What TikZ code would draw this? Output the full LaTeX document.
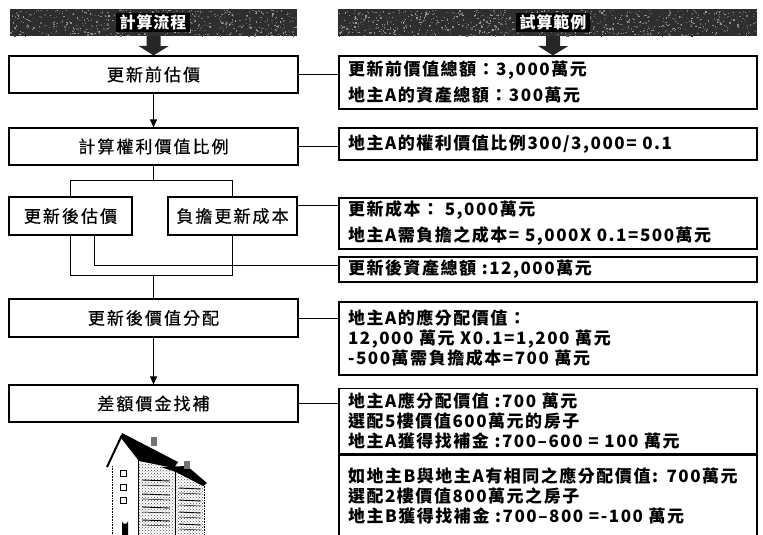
\documentclass[tikz,border=0pt]{standalone}
\usepackage{fontspec}
\setmainfont{Noto Sans CJK TC}
\usetikzlibrary{arrows.meta,patterns}

% text styles for the two columns
\newcommand\stepfont{\fontsize{17}{19}\selectfont\addfontfeature{LetterSpace=12,FakeBold=0.5}}
\newcommand\notefont{\bfseries\fontsize{17}{26}\selectfont\addfontfeature{LetterSpace=9}}
\newcommand\notefonttight{\bfseries\fontsize{17}{20}\selectfont\addfontfeature{LetterSpace=9}}
\newcommand\headfont{\bfseries\fontsize{16}{16}\selectfont\addfontfeature{LetterSpace=6}}

\tikzset{
  stepbox/.style={draw, line width=1.2pt, inner sep=0pt, minimum width=289, minimum height=37, font=\stepfont},
  notebox/.style={draw, line width=1.2pt, inner xsep=9pt, inner ysep=0pt, minimum width=418,
                  text width=400pt, align=left, font=\notefont},
  headbar/.style={fill=black!82, inner sep=0pt, minimum height=27},
  headlabel/.style={fill=black, text=white, font=\headfont, inner xsep=4pt, inner ysep=2pt},
  link/.style={line width=0.9pt},
  flow/.style={line width=0.9pt, -{Triangle[length=8pt,width=7pt]}},
  blockarrow/.style={fill=black!85},
}

\begin{document}
\begin{tikzpicture}[x=1pt,y=-1pt]
\useasboundingbox (0,0) rectangle (763,535);

% ---------- column headers with a grainy dark texture ----------
\node[headbar, minimum width=287] (hl) at (153.5,22.5) {};
\node[headbar, minimum width=419] (hr) at (547.5,22.5) {};
\pgfmathsetseed{11}
\foreach \i in {1,...,750}{
  \pgfmathsetmacro\rx{10+286*rnd}
  \pgfmathsetmacro\ry{9.5+26*rnd}
  \pgfmathsetmacro\rg{35+50*rnd}
  \fill[black!\rg] (\rx,\ry) rectangle ++(1.3,1.3);
}
\foreach \i in {1,...,1100}{
  \pgfmathsetmacro\rx{338+418*rnd}
  \pgfmathsetmacro\ry{9.5+26*rnd}
  \pgfmathsetmacro\rg{35+50*rnd}
  \fill[black!\rg] (\rx,\ry) rectangle ++(1.3,1.3);
}
\node[headlabel] (hlt) at (153,22.5) {計算流程};
\node[headlabel] (hrt) at (553,22.5) {試算範例};

% ---------- left column: calculation steps ----------
\node[stepbox] (l1) at (153.5,74.5) {更新前估價};
\node[stepbox] (l2) at (153.5,146.5) {計算權利價值比例};
\node[stepbox, minimum width=123, minimum height=38] (l3a) at (70.5,216) {更新後估價};
\node[stepbox, minimum width=129, minimum height=38] (l3b) at (232.5,216) {負擔更新成本};
\node[stepbox, minimum height=38] (l4) at (153.5,318) {更新後價值分配};
\node[stepbox] (l5) at (153.5,403.5) {差額價金找補};

% ---------- right column: worked example ----------
\node[notebox, minimum height=53] (r1) at (548,82.5) {更新前價值總額：3,000萬元\\地主A的資產總額：300萬元};
\node[notebox, minimum height=32] (r2) at (548,144) {地主A的權利價值比例300/3,000= 0.1};
\node[notebox, minimum height=51] (r3) at (548,223.5) {更新成本： 5,000萬元\\地主A需負擔之成本= 5,000X 0.1=500萬元};
\node[notebox, minimum height=25] (r3b) at (548,269.5) {更新後資產總額 :12,000萬元};
\node[notebox, minimum height=73, font=\notefonttight] (r4) at (548,338.5) {地主A的應分配價值：\\12,000 萬元 X0.1=1,200 萬元\\-500萬需負擔成本=700 萬元};
\node[notebox, minimum height=65, font=\notefonttight] (r5) at (548,421) {地主A應分配價值 :700 萬元\\選配5樓價值600萬元的房子\\地主A獲得找補金 :700–600 =  100 萬元};
\node[notebox, minimum height=85, font=\notefonttight, line width=1.6pt] (r6) at (548,496) {如地主B與地主A有相同之應分配價值: 700萬元\\選配2樓價值800萬元之房子\\地主B獲得找補金 :700–800 =-100 萬元};
\draw[line width=3pt] (r5.south west) -- (r5.south east);

% ---------- block arrows under the headers ----------
\fill[blockarrow] (hl.south) ++(-7,0) -- ++(14,0) -- ++(0,10) -- ++(8,0) -- (l1.north) -- ++(-15,-9.5) -- ++(8,0) -- cycle;
\fill[blockarrow] (hrt.south |- hr.south) ++(-7,0) -- ++(14,0) -- ++(0,10) -- ++(8,0) -- (hrt.south |- r1.north) -- ++(-15,-9.5) -- ++(8,0) -- cycle;

% ---------- flow of the steps ----------
\draw[flow] (l1.south) -- (l2.north);
\draw[link] (l2.south) -- ++(0,15) coordinate (fork);
\draw[link] (l3a.north) |- (fork) -| (l3b.north);
\draw[link] (l3a.south) -- ++(0,40) coordinate (join) -| (l3b.south);
\draw[link] (join -| l4.north) -- (l4.north);
\draw[flow] (l4.south) -- (l5.north);

% ---------- links from steps to the example boxes ----------
\draw[link] (l1.east) -- (l1.east -| r1.west);
\draw[link] (l2.east) -- (l2.east -| r2.west);
\draw[link] ([yshift=11pt]l3b.east) -- ([yshift=11pt]l3b.east -| r3.west);
\draw[link] ([xshift=23.5pt]l3a.south) |- ([yshift=4pt]r3b.west);
\draw[link] (l4.east) -- (l4.east -| r4.west);
\draw[link] (l5.east) -- (l5.east -| r5.west);

% ---------- small sketch of an apartment building ----------
\begin{scope}
  % facades with a stippled texture
  \fill[pattern=crosshatch dots, pattern color=black!70] (139,462) -- (175,468) -- (175,535) -- (139,535) -- cycle;
  \fill[pattern=crosshatch dots, pattern color=black!70] (176,472) -- (204,484) -- (204,535) -- (176,535) -- cycle;
  % walls
  \draw[line width=0.6pt, densely dotted] (112,466) -- (112,535);
  \draw[line width=0.8pt] (138,460) -- (138,535);
  \draw[line width=0.8pt] (175,468) -- (175,535);
  \draw[line width=0.6pt, densely dotted] (204,484) -- (204,535);
  % roofs
  \draw[line width=2pt] (107,467) -- (122,435);
  \fill (122,433) -- (178,462) -- (174,468) -- (139,461) -- (121,438) -- cycle;
  \fill (161,467) -- (187,466) -- (207,483) -- (203,486) -- (176,472) -- cycle;
  % chimneys
  \fill[black!55] (151,437) rectangle (157,446);
  \fill[black!55] (184,461) rectangle (190,469);
  % small windows on the gable side
  \foreach \wy in {470,484,497}
    \draw[line width=0.7pt] (120,\wy) rectangle (126,\wy+6);
  % door
  \fill (122,535) -- (122,521) arc[start angle=180, end angle=0, radius=3] -- (128,535) -- cycle;
  % balconies on the front facades
  \foreach \by in {480,494,507,520}{
    \draw[line width=0.9pt] (142,\by) -- (170,\by+1);
    \draw[line width=0.5pt] (142,\by+5) -- (170,\by+6);
  }
  \foreach \by in {488,500,512,524}{
    \draw[line width=0.9pt] (179,\by) -- (201,\by+1);
    \draw[line width=0.5pt] (179,\by+5) -- (201,\by+6);
  }
\end{scope}
\end{tikzpicture}
\end{document}
